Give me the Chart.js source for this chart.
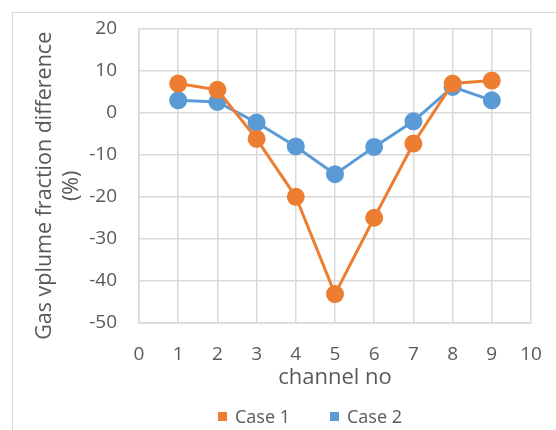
<!DOCTYPE html>
<html>
<head>
<meta charset="utf-8">
<script src="https://cdn.jsdelivr.net/npm/chart.js@4"></script>
<style>
  body { margin: 0; background: #fff; }
  #wrap { position: relative; width: 556px; height: 430px; }
  #frame { position: absolute; left: 12px; top: 12px; right: 0; bottom: 0; border-left: 1px solid #d9d9d9; border-top: 1px solid #d9d9d9; }
  canvas { position: absolute; left: 0; top: 0; }
  #legend { position: absolute; left: 218px; top: 405px; display: flex; gap: 40px; font: 18px 'Liberation Sans Narrow', 'Open Sans', sans-serif; color: #595959; line-height: 22px; }
  #legend .item { display: flex; align-items: center; }
  #legend .box { width: 9px; height: 9px; margin-right: 8px; }
</style>
</head>
<body>
<div id="wrap">
  <div id="frame"></div>
  <canvas id="chart" width="556" height="430"></canvas>
  <div id="legend"></div>
</div>
<script>
const CHANNELS = [1, 2, 3, 4, 5, 6, 7, 8, 9];
const CASE1 = [7, 5.5, -6.2, -20, -43.2, -25, -7.3, 7, 7.7];
const CASE2 = [3, 2.6, -2.3, -8, -14.6, -8.1, -2, 6.2, 3];
const Y_TITLE = ['Gas vplume fraction difference', '(%)'];

const ORANGE = '#ED7D31';
const BLUE = '#5B9BD5';
const TEXT = '#595959';
const GRID = '#d9d9d9';

const toPoints = (ys) => CHANNELS.map((x, i) => ({ x: x, y: ys[i] }));

// html legend, so the spacing can match the reference
const htmlLegend = {
  id: 'htmlLegend',
  afterUpdate(chart) {
    const box = document.getElementById('legend');
    box.innerHTML = '';
    chart.data.datasets.forEach((ds) => {
      const item = document.createElement('span');
      item.className = 'item';
      const sw = document.createElement('span');
      sw.className = 'box';
      sw.style.background = ds.backgroundColor;
      item.appendChild(sw);
      item.appendChild(document.createTextNode(ds.label));
      box.appendChild(item);
    });
  },
};

// y title sits a little lower than the plot centre in the reference
const yTitle = {
  id: 'yTitle',
  afterDraw(chart) {
    const ctx = chart.ctx;
    const cy = chart.chartArea.top + (chart.chartArea.bottom - chart.chartArea.top) / 2 + 10;
    ctx.save();
    ctx.fillStyle = TEXT;
    ctx.font = '21.5px "Open Sans"';
    ctx.textAlign = 'center';
    ctx.textBaseline = 'middle';
    Y_TITLE.forEach((line, i) => {
      ctx.save();
      ctx.translate(45 + i * 27, cy);
      ctx.rotate(-Math.PI / 2);
      ctx.fillText(line, 0, 0);
      ctx.restore();
    });
    ctx.restore();
  },
};

new Chart(document.getElementById('chart'), {
  type: 'line',
  data: {
    datasets: [
      {
        label: 'Case 1',
        data: toPoints(CASE1),
        borderColor: ORANGE,
        backgroundColor: ORANGE,
        borderWidth: 3,
        pointRadius: 7.5,
        tension: 0,
      },
      {
        label: 'Case 2',
        data: toPoints(CASE2),
        borderColor: BLUE,
        backgroundColor: BLUE,
        borderWidth: 3,
        pointRadius: 7.5,
        tension: 0,
      },
    ],
  },
  plugins: [htmlLegend, yTitle],
  options: {
    responsive: false,
    animation: false,
    layout: { padding: { left: 0, right: 25, top: 28, bottom: 39 } },
    plugins: {
      tooltip: { enabled: false },
      legend: { display: false },
    },
    scales: {
      x: {
        type: 'linear',
        min: 0,
        max: 10,
        ticks: { stepSize: 1, maxRotation: 0, color: TEXT, padding: 13, font: { family: 'Open Sans', size: 19, lineHeight: 2 } },
        grid: { color: GRID, lineWidth: 1.5, drawTicks: false },
        border: { color: GRID, width: 1.5 },
        title: {
          display: true,
          text: 'channel no',
          color: TEXT,
          padding: { top: -22, bottom: 0 },
          font: { family: 'Open Sans', size: 22 },
        },
      },
      y: {
        min: -50,
        max: 20,
        ticks: { stepSize: 10, color: TEXT, padding: 22, font: { family: 'Open Sans', size: 19, lineHeight: 0.74 } },
        grid: { color: GRID, lineWidth: 1.5, drawTicks: false },
        border: { color: GRID, width: 1.5 },
        afterFit: (scale) => { scale.width = 139; },
      },
    },
  },
});
</script>
</body>
</html>
